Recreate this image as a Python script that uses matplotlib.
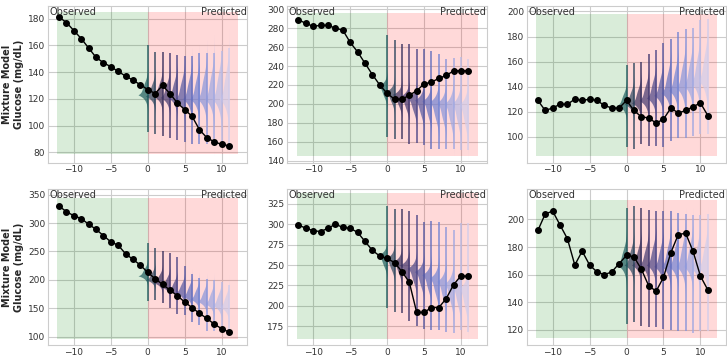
import numpy as np
import matplotlib
matplotlib.use("Agg")
import matplotlib.pyplot as plt
import seaborn as sns
from matplotlib.colors import LinearSegmentedColormap

# time steps
T_OBS = list(range(-12, 12))        # observed trace, -12 .. 11
T_PRED = list(range(0, 12))         # prediction horizon, 0 .. 11

# observed glucose per panel (mg/dL)
GLUCOSE = [
    [181, 177, 171, 165, 158, 151, 147, 144, 140.5, 137, 134, 130.5, 127, 124, 130, 124, 117, 112, 107, 97, 91, 88, 86, 85],
    [289, 285, 282, 283, 283, 280, 278, 265, 255, 243, 231, 220, 211, 205, 205, 209, 214, 221, 223, 227, 230, 235, 235, 235],
    [129, 121, 123, 126, 126, 130, 129, 130, 129, 125, 123, 123, 129, 121, 116, 115, 111, 114, 123, 119, 121, 124, 127, 117],
    [330, 320, 313, 308, 298, 289, 278, 267, 261, 246, 236, 226, 213, 202, 192, 182, 172, 161, 151, 141, 132, 122, 114, 108],
    [299, 295, 292, 291, 295, 300, 296, 295, 290, 279, 268, 261, 258, 253, 242, 229, 192, 192, 198, 198, 209, 226, 237, 236],
    [192, 204, 206, 196, 186, 167, 177, 167, 162, 160, 162, 168, 174, 173, 164, 152, 148, 158, 176, 189, 190, 177, 159, 149],
]

# mixture-model predictive spread: low / high of sample range per step
PRED_LO = [
    [95, 94, 92, 91, 89, 88, 86, 86, 86, 86, 85, 85],
    [165, 163, 163, 158, 159, 157, 152, 152, 152, 152, 151, 151],
    [92, 90, 94, 93, 93, 92, 97, 99, 99, 101, 102, 102],
    [162, 165, 160, 150, 140, 138, 125, 120, 110, 110, 110, 110],
    [198, 193, 191, 181, 175, 172, 171, 171, 168, 167, 170, 168],
    [124, 126, 123, 122, 122, 121, 120, 119, 119, 118, 119, 119],
]
PRED_HI = [
    [160, 155, 155, 154, 153, 152, 152, 154, 154, 154, 156, 158],
    [273, 268, 263, 263, 258, 258, 256, 253, 247, 249, 250, 247],
    [157, 159, 160, 166, 169, 175, 178, 184, 186, 187, 193, 194],
    [265, 256, 250, 247, 240, 225, 210, 204, 201, 200, 196, 191],
    [322, 319, 319, 316, 311, 303, 304, 303, 297, 293, 302, 302],
    [208, 210, 208, 207, 206, 206, 206, 205, 204, 203, 203, 204],
]
# density mode and width per step
PRED_MODE = [
    [123, 122, 122, 121, 121, 120, 120, 120, 120, 120, 120, 120],
    [219, 213, 210, 208, 206, 204, 203, 202, 201, 200, 200, 199],
    [125, 126, 127, 129, 131, 133, 135, 137, 139, 141, 143, 145],
    [207, 200, 195, 188, 182, 177, 171, 166, 162, 158, 155, 152],
    [262, 258, 254, 250, 246, 242, 238, 234, 230, 227, 224, 221],
    [167, 167, 167, 167, 167, 166, 166, 166, 166, 166, 165, 165],
]
PRED_SD = [
    [6, 6, 6.5, 7, 8, 9, 9.5, 10, 11, 12, 12.5, 13],
    [7.5, 7.5, 8, 9, 9.5, 10.5, 11, 12, 12.5, 13.5, 14, 15],
    [6, 6.5, 7.5, 8, 9, 9.5, 10.5, 11, 12, 12.5, 13.5, 14],
    [9, 9, 9.5, 10.5, 10.5, 11, 12, 12, 12.5, 13.5, 13.5, 14],
    [9, 9, 9.5, 10.5, 11, 12, 12.5, 13.5, 14, 15, 15.5, 16.5],
    [7.5, 7.5, 8, 8, 9, 9, 9.5, 9.5, 10.5, 10.5, 11, 11],
]
SKEW = [1, -1, 1, 1, -1, 1]
YLIM = [(72.5, 189), (138, 303), (79.5, 204), (85, 360), (152, 343), (109, 222)]
YTICKS = [
    [80, 100, 120, 140, 160, 180],
    [140, 160, 180, 200, 220, 240, 260, 280, 300],
    [100, 120, 140, 160, 180, 200],
    [100, 150, 200, 250, 300, 350],
    [175, 200, 225, 250, 275, 300, 325],
    [120, 140, 160, 180, 200],
]
FILL_Y = [(78.5, 185), (145, 296), (85, 198), (95, 345), (160, 338), (114, 214)]

sns.set_style("whitegrid")
plt.rcParams["font.family"] = ["DejaVu Sans"]

cmap = LinearSegmentedColormap.from_list(
    "pred", ["#1f5c5e", "#3d2c5e", "#4f4a8e", "#6a7cd0", "#9aa3e0", "#d2cdea"])

fig, axes = plt.subplots(2, 3, figsize=(7.27, 3.58), dpi=100)
fig.subplots_adjust(left=0.066, right=0.999, top=0.982, bottom=0.036,
                    wspace=0.2, hspace=0.17)

for k, ax in enumerate(axes.flat):
    lo, hi = FILL_Y[k]
    ax.fill_between([-12.25, 0], lo, hi, color="g", alpha=0.15, lw=0, zorder=1)
    ax.fill_between([0, 12.25], lo, hi, color="r", alpha=0.15, lw=0, zorder=1)

    for j, t in enumerate(T_PRED):
        c = cmap(j / 11)
        m, s = PRED_MODE[k][j], PRED_SD[k][j]
        ys = np.linspace(m - 4 * s, m + 4 * s, 300)
        z = (ys - m) / s
        # sharp mode plus a skewed shoulder
        d = 0.55 * np.exp(-3.0 * np.abs(z)) \
            + 0.45 * np.exp(-0.5 * ((z - SKEW[k] * 0.6) / 1.0) ** 2)
        d = d / d.max() * 1.3
        ax.fill_betweenx(ys, t - d, t, color=c, alpha=0.7, lw=0, zorder=2)
        ax.vlines(t, PRED_LO[k][j], PRED_HI[k][j], color=c, alpha=0.85,
                  lw=1.2, zorder=3)

    ax.plot(T_OBS, GLUCOSE[k], color="black", lw=1, marker="o", ms=4, zorder=4)

    ax.set_xlim(-13.5, 13.5)
    ax.set_ylim(*YLIM[k])
    ax.set_xticks([-10, -5, 0, 5, 10])
    ax.set_xticklabels(["\u221210", "\u22125", "0", "5", "10"])
    ax.set_yticks(YTICKS[k])
    ax.tick_params(labelsize=6.5, colors="#333333", length=0, pad=2)
    for s in ax.spines.values():
        s.set_color("#cccccc")
    ax.text(0.008, 0.995, "Observed", transform=ax.transAxes, ha="left",
            va="top", fontsize=7, color="#333333", zorder=5)
    ax.text(0.995, 0.995, "Predicted", transform=ax.transAxes, ha="right",
            va="top", fontsize=7, color="#333333", zorder=5)
    if k % 3 == 0:
        ax.set_ylabel("Mixture Model\nGlucose (mg/dL)", fontsize=7,
                      fontweight="bold", labelpad=3)

fig.savefig("out.png", dpi=100, facecolor="white")
